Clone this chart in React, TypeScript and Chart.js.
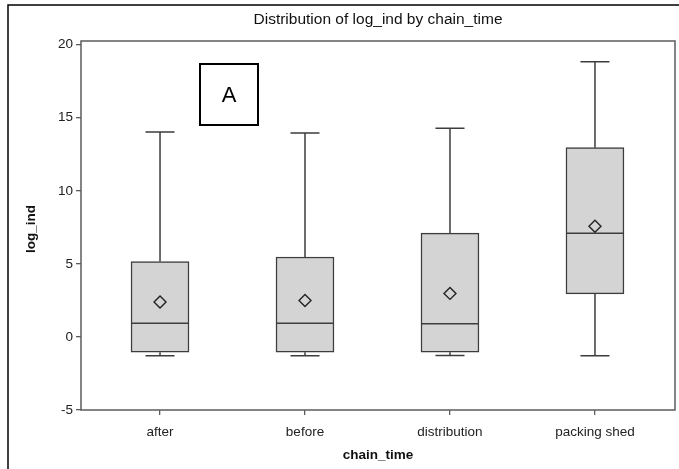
import React, { useEffect, useRef } from "react";
import { Chart, registerables } from "chart.js";

Chart.register(...registerables);

// Box-plot summary of log_ind for each chain_time group
const categories = ["after", "before", "distribution", "packing shed"];
const whiskerLow = [-1.29, -1.29, -1.27, -1.29];
const quartile1 = [-1.04, -1.04, -1.04, 2.95];
const medians = [0.93, 0.93, 0.9, 7.1];
const quartile3 = [5.16, 5.47, 7.1, 12.95];
const whiskerHigh = [14.03, 13.96, 14.28, 18.83];
const means = [2.39, 2.5, 2.98, 7.58];
const yTicks = [-5, 0, 5, 10, 15, 20];

const FONT = "'Liberation Sans', Arial, sans-serif";

const boxPlotPlugin = {
  id: "boxPlotParts",
  afterDatasetDraw(chart: any, args: any) {
    if (args.index !== 0) return;
    const { ctx } = chart;
    const y = chart.scales.y;
    const meta = chart.getDatasetMeta(0);
    ctx.save();
    ctx.strokeStyle = "#3d3d3d";
    ctx.lineWidth = 1.5;
    meta.data.forEach((bar: any, i: number) => {
      const cx = bar.x;
      const half = bar.width / 2;
      const capHalf = half / 2;
      const yLow = y.getPixelForValue(whiskerLow[i]);
      const yQ1 = y.getPixelForValue(quartile1[i]);
      const yMed = y.getPixelForValue(medians[i]);
      const yQ3 = y.getPixelForValue(quartile3[i]);
      const yHigh = y.getPixelForValue(whiskerHigh[i]);
      ctx.beginPath();
      // upper whisker and cap
      ctx.moveTo(cx, yQ3);
      ctx.lineTo(cx, yHigh);
      ctx.moveTo(cx - capHalf, yHigh);
      ctx.lineTo(cx + capHalf, yHigh);
      // lower whisker and cap
      ctx.moveTo(cx, yQ1);
      ctx.lineTo(cx, yLow);
      ctx.moveTo(cx - capHalf, yLow);
      ctx.lineTo(cx + capHalf, yLow);
      // median
      ctx.moveTo(cx - half, yMed);
      ctx.lineTo(cx + half, yMed);
      ctx.stroke();
    });
    ctx.restore();
  },
  afterDraw(chart: any) {
    const { ctx, chartArea } = chart;
    const { left, right, top, bottom } = chartArea;
    const midX = (left + right) / 2;
    ctx.save();

    // outer frame of the graphic
    ctx.strokeStyle = "#000";
    ctx.lineWidth = 1.5;
    ctx.beginPath();
    ctx.moveTo(8, chart.height);
    ctx.lineTo(8, 5);
    ctx.lineTo(chart.width, 5);
    ctx.stroke();

    // plot frame
    ctx.strokeStyle = "#5c5c5c";
    ctx.lineWidth = 1.5;
    ctx.strokeRect(left, top, right - left, bottom - top);

    // title
    ctx.fillStyle = "#111";
    ctx.textAlign = "center";
    ctx.textBaseline = "middle";
    ctx.font = `15.5px ${FONT}`;
    ctx.fillText("Distribution of log_ind by chain_time", midX, 20);

    // axis titles
    ctx.font = `bold 13.5px ${FONT}`;
    ctx.fillText("chain_time", midX, 455);
    ctx.save();
    ctx.translate(31, 229);
    ctx.rotate(-Math.PI / 2);
    ctx.fillText("log_ind", 0, 0);
    ctx.restore();

    // panel label
    const bx = left + 119;
    const by = top + 23;
    ctx.strokeStyle = "#000";
    ctx.lineWidth = 2;
    ctx.strokeRect(bx, by, 58, 61);
    ctx.fillStyle = "#000";
    ctx.font = `22px ${FONT}`;
    ctx.fillText("A", bx + 29, by + 32);

    ctx.restore();
  },
};

export default function App() {
  const canvasRef = useRef<HTMLCanvasElement | null>(null);

  useEffect(() => {
    document.body.style.margin = "0";
    const canvas = canvasRef.current;
    if (!canvas) return;

    const chart = new Chart(canvas, {
      type: "bar",
      data: {
        datasets: [
          {
            type: "bar",
            data: categories.map((_, i) => ({ x: i, y: [quartile1[i], quartile3[i]] })) as any,
            backgroundColor: "#d4d4d4",
            borderColor: "#3d3d3d",
            borderWidth: 1.5,
            borderSkipped: false,
            barThickness: 58,
            order: 2,
          },
          {
            type: "line",
            data: categories.map((_, i) => ({ x: i, y: means[i] })),
            showLine: false,
            pointStyle: "rectRot",
            pointRadius: 6,
            pointBorderWidth: 1.4,
            borderColor: "#222",
            pointBorderColor: "#222",
            backgroundColor: "rgba(0,0,0,0)",
            pointBackgroundColor: "rgba(0,0,0,0)",
            order: 1,
          } as any,
        ],
      },
      options: {
        animation: false,
        responsive: false,
        devicePixelRatio: 1,
        layout: { autoPadding: false, padding: { top: 41, right: 4, left: 0, bottom: 0 } },
        plugins: {
          legend: { display: false },
          tooltip: { enabled: false },
          title: { display: false },
        },
        scales: {
          x: {
            type: "linear",
            offset: false,
            min: -0.545,
            max: 3.552,
            grid: {
              display: true,
              offset: false,
              drawOnChartArea: false,
              drawTicks: true,
              tickLength: 5,
              color: "#5c5c5c",
              lineWidth: 1.3,
            },
            border: { display: false },
            afterBuildTicks: (scale: any) => {
              scale.ticks = categories.map((_, i) => ({ value: i }));
            },
            afterFit: (scale: any) => {
              scale.height = 59;
              scale.paddingLeft = 0;
              scale.paddingRight = 0;
            },
            ticks: {
              padding: 9,
              color: "#222",
              font: { family: FONT, size: 13.5 },
              maxRotation: 0,
              autoSkip: false,
              callback: (v: any) => categories[v] ?? "",
            },
          },
          y: {
            type: "linear",
            min: -5,
            max: 20.25,
            grid: {
              display: true,
              drawOnChartArea: false,
              drawTicks: true,
              tickLength: 5,
              color: "#5c5c5c",
              lineWidth: 1.3,
            },
            border: { display: false },
            afterBuildTicks: (scale: any) => {
              scale.ticks = yTicks.map((v) => ({ value: v }));
            },
            afterFit: (scale: any) => {
              scale.width = 81;
            },
            ticks: {
              padding: 3,
              color: "#222",
              font: { family: FONT, size: 13.5 },
            },
          },
        },
      } as any,
      plugins: [boxPlotPlugin],
    });

    return () => chart.destroy();
  }, []);

  return (
    <div style={{ width: 679, height: 469, background: "#fff" }}>
      <canvas ref={canvasRef} width={679} height={469} style={{ display: "block" }} />
    </div>
  );
}
